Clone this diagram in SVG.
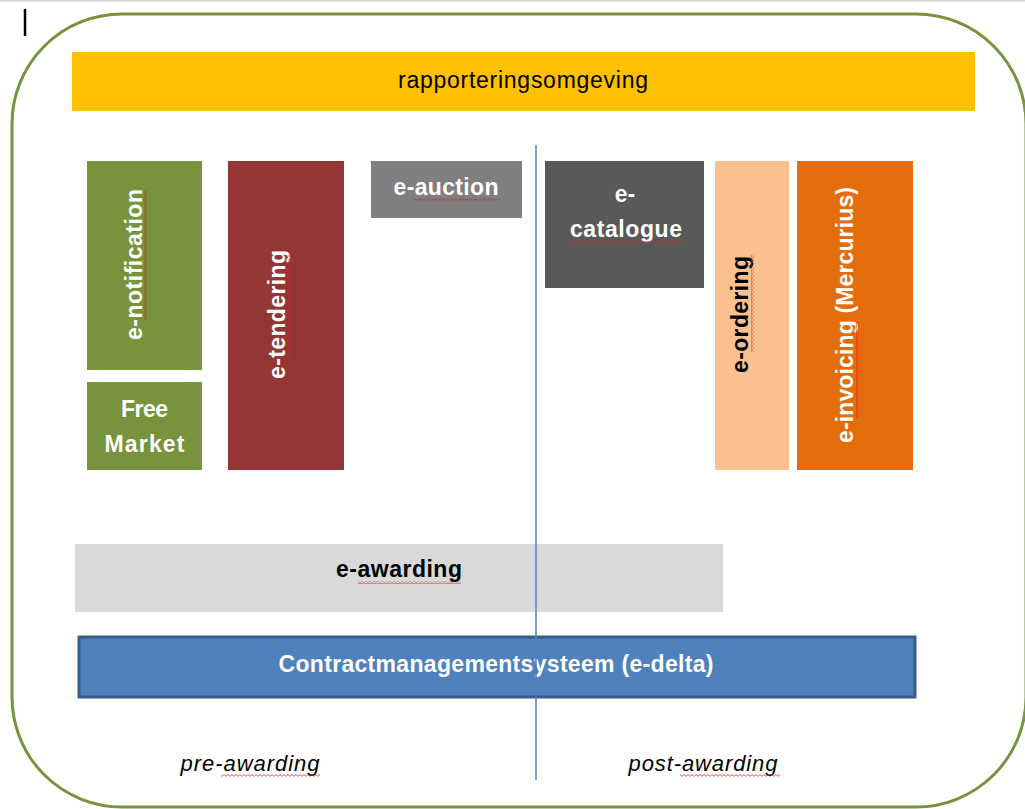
<svg xmlns="http://www.w3.org/2000/svg" width="1025" height="809" viewBox="0 0 1025 809">
<style>
.t{font-family:"Liberation Sans",Arial,sans-serif;font-size:23px;font-weight:bold;fill:#fff;text-anchor:middle}
.dk{fill:#000}
.rg{font-weight:normal}
.it{font-family:"Liberation Sans",Arial,sans-serif;font-size:22px;font-style:italic;fill:#000;text-anchor:middle}
</style>
<defs>
<pattern id="sqh" width="4" height="3" patternUnits="userSpaceOnUse"><path d="M0 0.6 L2 2.4 L4 0.6" fill="none" stroke="#e02020" stroke-width="0.8"/></pattern>
<pattern id="sqv" width="3" height="4" patternUnits="userSpaceOnUse"><path d="M0.6 0 L2.4 2 L0.6 4" fill="none" stroke="#e02020" stroke-width="0.8"/></pattern>
</defs>
<rect width="1025" height="809" fill="#fff"/>
<rect x="0" y="0" width="1025" height="1.5" fill="#d4d4d4"/>
<line x1="25" y1="9" x2="25" y2="36" stroke="#000" stroke-width="2.5"/>
<rect id="frame" x="12" y="14" width="1014" height="793" rx="110" ry="110" fill="none" stroke="#77933C" stroke-width="3"/>

<g id="rapporteringsomgeving">
<rect x="72" y="52" width="903" height="59" fill="#FFC000"/>
<text class="t dk rg" x="523" y="88" textLength="250" lengthAdjust="spacing">rapporteringsomgeving</text>
</g>

<g id="e-notification">
<rect x="87" y="161" width="115" height="209" fill="#77933C"/>
<text class="t" transform="translate(142,264.5) rotate(-90)" x="0" y="0" textLength="151" lengthAdjust="spacing">e-notification</text>
<rect x="144" y="189" width="3" height="131" fill="url(#sqv)"/>
</g>

<g id="free-market">
<rect x="87" y="382" width="115" height="88" fill="#77933C"/>
<text class="t" x="144.5" y="417" textLength="47" lengthAdjust="spacing">Free</text>
<text class="t" x="144.5" y="452" textLength="80" lengthAdjust="spacing">Market</text>
</g>

<g id="e-tendering">
<rect x="228" y="161" width="116" height="309" fill="#943634"/>
<text class="t" transform="translate(285,314.5) rotate(-90)" x="0" y="0" textLength="129" lengthAdjust="spacing">e-tendering</text>
<rect x="288" y="248" width="3" height="111" fill="url(#sqv)"/>
</g>

<g id="e-auction">
<rect x="371" y="161" width="151" height="57" fill="#7F7F7F"/>
<text class="t" x="446" y="195" textLength="105" lengthAdjust="spacing">e-auction</text>
<rect x="413" y="198" width="87" height="3" fill="url(#sqh)"/>
</g>

<g id="e-catalogue">
<rect x="545" y="161" width="159" height="127" fill="#595959"/>
<text class="t" x="625" y="202">e-</text>
<text class="t" x="626" y="237" textLength="112" lengthAdjust="spacing">catalogue</text>
<rect x="570" y="241" width="112" height="3" fill="url(#sqh)"/>
</g>

<g id="e-ordering">
<rect x="715" y="161" width="74" height="309" fill="#FAC090"/>
<text class="t dk" transform="translate(748,314.5) rotate(-90)" x="0" y="0" textLength="117" lengthAdjust="spacing">e-ordering</text>
<rect x="751" y="255" width="3" height="97" fill="url(#sqv)"/>
</g>

<g id="e-invoicing">
<rect x="797" y="161" width="116" height="309" fill="#E46C0A"/>
<text class="t" transform="translate(853,315) rotate(-90)" x="0" y="0" textLength="256" lengthAdjust="spacing">e-invoicing (Mercurius)</text>
<rect x="856" y="322" width="3" height="96" fill="url(#sqv)"/>
</g>

<g id="e-awarding">
<rect x="75" y="544" width="648" height="68" fill="#D9D9D9"/>
<text class="t dk" x="399" y="577" textLength="126" lengthAdjust="spacing">e-awarding</text>
<rect x="358" y="581" width="103" height="3" fill="url(#sqh)"/>
</g>

<g id="contractmanagement">
<rect x="79" y="637" width="836" height="60" fill="#4F81BD" stroke="#385D8A" stroke-width="3"/>
<text class="t" x="496" y="672" textLength="435" lengthAdjust="spacing">Contractmanagementsysteem (e-delta)</text>
</g>

<g id="connectors">
<line x1="536" y1="145" x2="536" y2="780" stroke="#4F81BD" stroke-width="1.5"/>
</g>

<g id="phases">
<text class="it" x="250" y="771" textLength="139" lengthAdjust="spacing">pre-awarding</text>
<rect x="221" y="774" width="99" height="3" fill="url(#sqh)"/>
<text class="it" x="703" y="771" textLength="149" lengthAdjust="spacing">post-awarding</text>
<rect x="680" y="774" width="100" height="3" fill="url(#sqh)"/>
</g>
</svg>
